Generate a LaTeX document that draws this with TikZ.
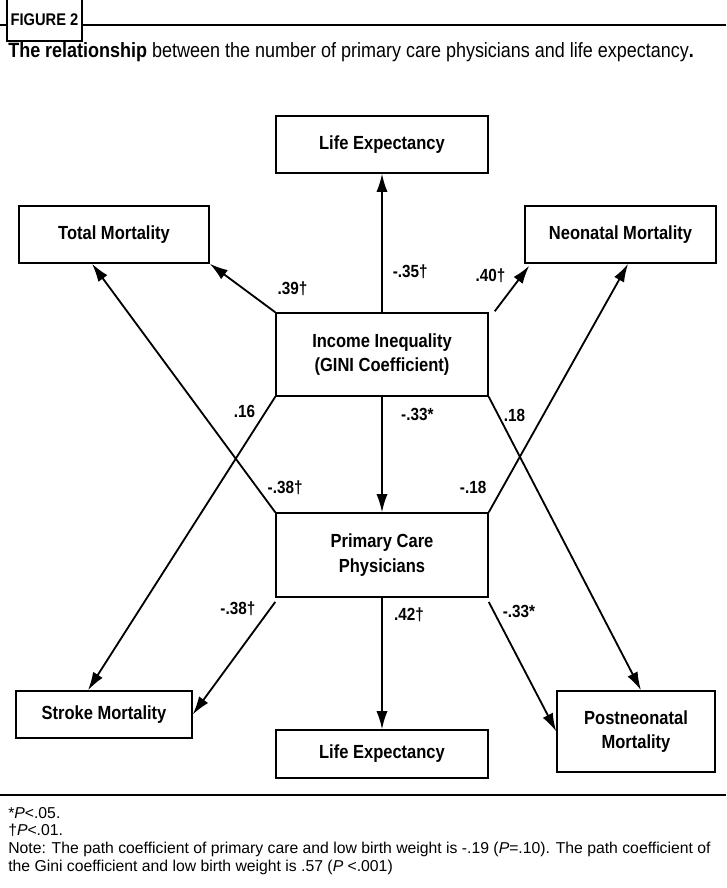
\documentclass[tikz,border=0pt]{standalone}
\usepackage{fontspec}
\setmainfont[FakeStretch=0.87]{Liberation Sans}
\newfontfamily\notefont{Liberation Sans}
\usetikzlibrary{calc,positioning,arrows.meta}

\begin{document}
\begin{tikzpicture}[x=0.025cm,y=-0.025cm,
		box/.style={draw,line width=1pt,align=center,inner sep=2pt,
			font=\bfseries\fontsize{13.5}{17.5}\selectfont},
		link/.style={line width=1.3pt,-{Latex[length=13pt,width=8pt]}},
		coef/.style={inner sep=1pt,font=\bfseries\fontsize{12.5}{14}\selectfont}]
		\useasboundingbox (0,0) rectangle (726,888);

		% header
		\draw[line width=1.2pt] (0,25) -- (7,25) (82,25) -- (726,25);
		\draw[line width=1pt] (7,0) |- (82,41) -- (82,0);
		\node[font=\bfseries\fontsize{12}{14}\selectfont] (figno) at (44.5,20) {FIGURE 2};
		\node[anchor=west,inner sep=0pt,font=\fontsize{14.7}{16}\selectfont] (caption) at (8,52)
			{\textbf{The relationship} between the number of primary care physicians and life expectancy\textbf{.}};

		% variables
		\node[box,minimum width=5.3cm,minimum height=1.425cm] (lifetop) at (382,144.5) {Life Expectancy};
		\node[box,minimum width=4.75cm,minimum height=1.425cm] (total) at (114,234.5) {Total Mortality};
		\node[box,minimum width=4.775cm,minimum height=1.425cm] (neo) at (620.5,234.5) {Neonatal Mortality};
		\node[box,minimum width=5.3cm,minimum height=2.075cm] (gini) at (382,354.5) {Income Inequality\\(GINI Coefficient)};
		\node[box,minimum width=5.3cm,minimum height=2.1cm] (pcp) at (382,555) {Primary Care\\Physicians};
		\node[box,minimum width=4.4cm,minimum height=1.175cm] (stroke) at (104,714.5) {Stroke Mortality};
		\node[box,minimum width=5.3cm,minimum height=1.2cm] (lifebot) at (382,754) {Life Expectancy};
		\node[box,minimum width=3.95cm,minimum height=2.025cm] (postneo) at (636,731.5) {Postneonatal\\Mortality};

		% paths from income inequality
		\draw[link] (gini.north) -- node[coef,pos=.29,right=6pt] {-.35†} (lifetop.south);
		\draw[link] (gini.north west) -- node[coef,pos=0,anchor=south west,yshift=10pt] {.39†} (total.south east);
		\draw[link] ($(gini.north east)+(6,-1)$) -- node[coef,pos=.78,left=10pt] {.40†} ($(neo.south west)+(5,2)$);
		\draw[link] (gini.south west) -- node[coef,pos=.05,left=6pt] {.16} ([xshift=-0.4cm]stroke.north);
		\draw[link] (gini.south east) -- node[coef,pos=.065,right=2pt] {.18} ([xshift=0.125cm]postneo.north);
		\draw[link] (gini.south) -- node[coef,pos=.15,right=12pt] {-.33*} (pcp.north);

		% paths from primary care
		\draw[link] (pcp.north west) -- node[coef,pos=.1,right=6pt] {-.38†} ([xshift=-0.55cm]total.south);
		\draw[link] (pcp.north east) -- node[coef,pos=.1,left=10pt] {-.18} ([xshift=0.19cm]neo.south);
		\draw[link] (pcp.south) -- node[coef,pos=.13,right=7pt] {.42†} (lifebot.north);
		\draw[link] ([yshift=-3pt]pcp.south west) -- node[coef,pos=.06,left=9pt] {-.38†} (stroke.east);
		\draw[link] ([yshift=-3pt]pcp.south east) -- node[coef,pos=.07,right=5pt] {-.33*} (postneo.west);

		% footnotes
		\draw[line width=1.2pt] (0,795) -- (726,795);
		\node[anchor=north west,align=left,inner sep=0pt,font=\notefont\fontsize{11.2}{12.5}\selectfont] (notes) at (8,807)
			{*\textit{P}<.05.\\
			†\textit{P}<.01.\\
			Note: The path coefficient of primary care and low birth weight is -.19 (\textit{P}=.10). The path coefficient of\\
			the Gini coefficient and low birth weight is .57 (\textit{P} <.001)};
	\end{tikzpicture}
\end{document}
